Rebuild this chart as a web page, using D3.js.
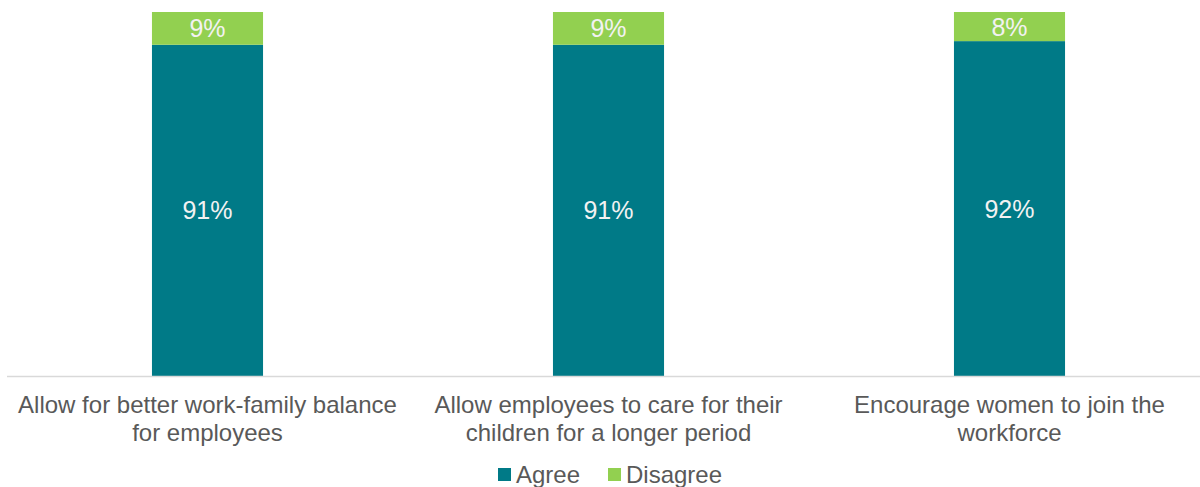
<!DOCTYPE html>
<html>
<head>
<meta charset="utf-8">
<script src="https://cdn.jsdelivr.net/npm/d3@7"></script>
<style>
  html, body { margin: 0; padding: 0; background: #ffffff; }
  svg { display: block; font-family: "Liberation Sans", Arial, sans-serif; }
</style>
</head>
<body>
<svg id="chart" width="1200" height="487"></svg>
<script>
// Survey statements and shares of respondents (percent)
const categories = [
  ["Allow for better work-family balance", "for employees"],
  ["Allow employees to care for their", "children for a longer period"],
  ["Encourage women to join the", "workforce"]
];
const agree = [91, 91, 92];
const disagree = [9, 9, 8];
const seriesNames = ["Agree", "Disagree"];
const seriesColors = ["#007A87", "#92D050"];

const svg = d3.select("#chart");
const W = 1200, H = 487;
const plot = { left: 7, right: 1210, top: 12, bottom: 376 };

const x = d3.scaleBand()
  .domain(d3.range(categories.length))
  .range([plot.left, plot.right])
  .padding(0);
const barW = x.bandwidth() * 0.277;

const y = d3.scaleLinear().domain([0, 100]).range([plot.bottom, plot.top]);

const rows = categories.map((c, i) => ({ i, values: [agree[i], disagree[i]] }));
const stack = d3.stack().keys([0, 1]).value((d, k) => d.values[k]);
const layers = stack(rows);

// Stacked bars with value labels centred in each segment
const g = svg.append("g");
layers.forEach((layer, k) => {
  g.selectAll(null)
    .data(layer)
    .enter()
    .append("rect")
    .attr("x", d => x(d.data.i) + (x.bandwidth() - barW) / 2)
    .attr("y", d => y(d[1]))
    .attr("width", barW)
    .attr("height", d => y(d[0]) - y(d[1]))
    .attr("fill", seriesColors[k]);

  g.selectAll(null)
    .data(layer)
    .enter()
    .append("text")
    .attr("x", d => x(d.data.i) + x.bandwidth() / 2)
    .attr("y", d => (y(d[0]) + y(d[1])) / 2)
    .attr("dy", "0.36em")
    .attr("text-anchor", "middle")
    .attr("font-size", 25)
    .attr("fill", "#f2f2f2")
    .text(d => d.data.values[k] + "%");
});

// Category axis line
svg.append("line")
  .attr("x1", plot.left).attr("x2", W)
  .attr("y1", plot.bottom + 0.5).attr("y2", plot.bottom + 0.5)
  .attr("stroke", "#d9d9d9")
  .attr("stroke-width", 1.5);

// Category labels (two lines each)
const labels = svg.append("g")
  .attr("font-size", 24)
  .attr("fill", "#595959")
  .attr("text-anchor", "middle");
categories.forEach((lines, i) => {
  const cx = x(i) + x.bandwidth() / 2;
  const t = labels.append("text")
    .attr("x", cx)
    .attr("y", 412.5);
  lines.forEach((ln, j) => {
    t.append("tspan")
      .attr("x", cx)
      .attr("dy", j === 0 ? 0 : 28.5)
      .text(ln);
  });
});

// Legend
const legend = svg.append("g").attr("font-size", 24).attr("fill", "#595959");
const legendX = [498, 608];
seriesNames.forEach((name, k) => {
  legend.append("rect")
    .attr("x", legendX[k]).attr("y", 468)
    .attr("width", 13).attr("height", 13)
    .attr("fill", seriesColors[k]);
  legend.append("text")
    .attr("x", legendX[k] + 18).attr("y", 483)
    .text(name);
});
</script>
</body>
</html>
